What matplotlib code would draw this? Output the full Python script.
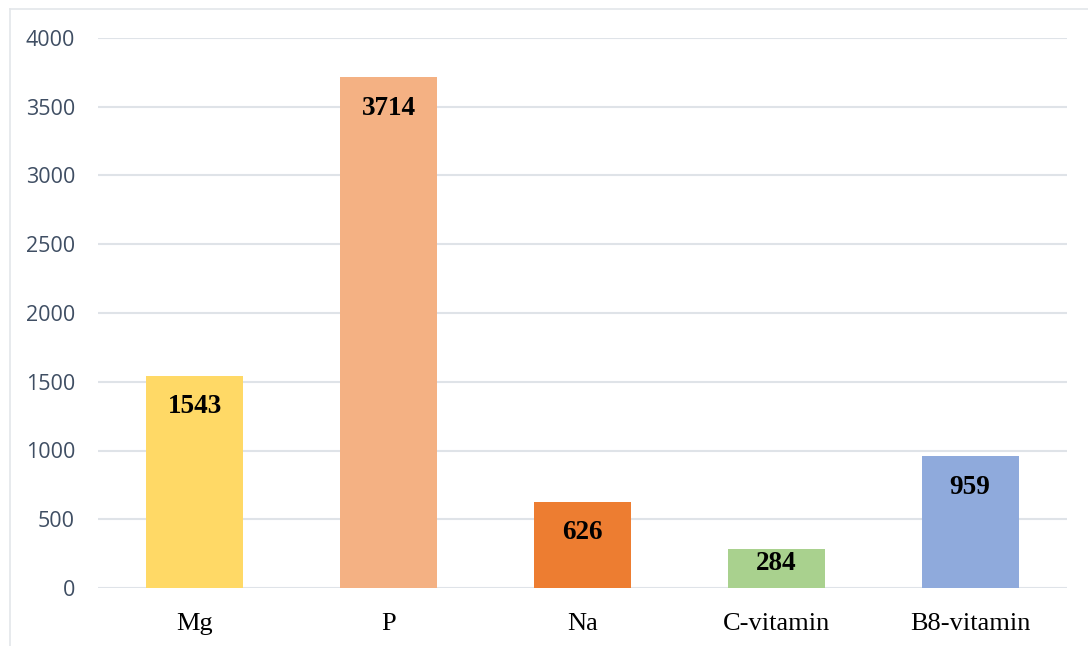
import matplotlib
matplotlib.use("Agg")
import matplotlib.pyplot as plt
from matplotlib.lines import Line2D

categories = ["Mg", "P", "Na", "C-vitamin", "B8-vitamin"]
values = [1543, 3714, 626, 284, 959]
colors = ["#FFD966", "#F4B183", "#ED7D31", "#A9D18E", "#8FAADC"]
y_ticks = [0, 500, 1000, 1500, 2000, 2500, 3000, 3500, 4000]

W, H = 1088, 646
fig = plt.figure(figsize=(W / 100, H / 100), dpi=100)
fig.patch.set_facecolor("white")

# outer chart frame (left and top edges visible)
frame_col = "#E3E6EA"
fig.add_artist(Line2D([9.5 / W, 9.5 / W], [0, 1 - 8.5 / H], transform=fig.transFigure,
                      color=frame_col, lw=1.2))
fig.add_artist(Line2D([9.5 / W, 1], [1 - 8.5 / H, 1 - 8.5 / H], transform=fig.transFigure,
                      color=frame_col, lw=1.2))

left, right = 98 / W, 1067 / W
bottom, top = 1 - 588 / H, 1 - 38 / H
ax = fig.add_axes([left, bottom, right - left, top - bottom])

x = range(len(categories))
bars = ax.bar(x, values, width=0.5, color=colors, zorder=3)

ax.set_xlim(-0.5, len(categories) - 0.5)
ax.set_ylim(0, 4000)
ax.set_yticks(y_ticks)
ax.set_yticklabels([str(t) for t in y_ticks], fontsize=15.5, color="#3F4E63",
                   family=["Open Sans", "DejaVu Sans"])
ax.set_xticks(list(x))
ax.set_xticklabels(categories, fontsize=19, family="Liberation Serif", color="black")
ax.tick_params(axis="y", length=0, pad=16.5)
ax.tick_params(axis="x", length=0, pad=18)

ax.yaxis.grid(True, color="#DFE3E8", lw=1.5, zorder=0)
ax.set_axisbelow(True)
for s in ax.spines.values():
    s.set_visible(False)

# value labels just inside the bar tops (short bars get a smaller inset)
px_per_unit = (588 - 38) / 4000
for xi, v in zip(x, values):
    inset = 31 if v * px_per_unit > 60 else 15
    ax.annotate(str(v), (xi, v), xytext=(0, -inset), textcoords="offset pixels",
                ha="center", va="center", fontsize=19.5, fontweight="bold",
                family="Liberation Serif", color="black", zorder=4)

fig.savefig("out.png", dpi=100)
